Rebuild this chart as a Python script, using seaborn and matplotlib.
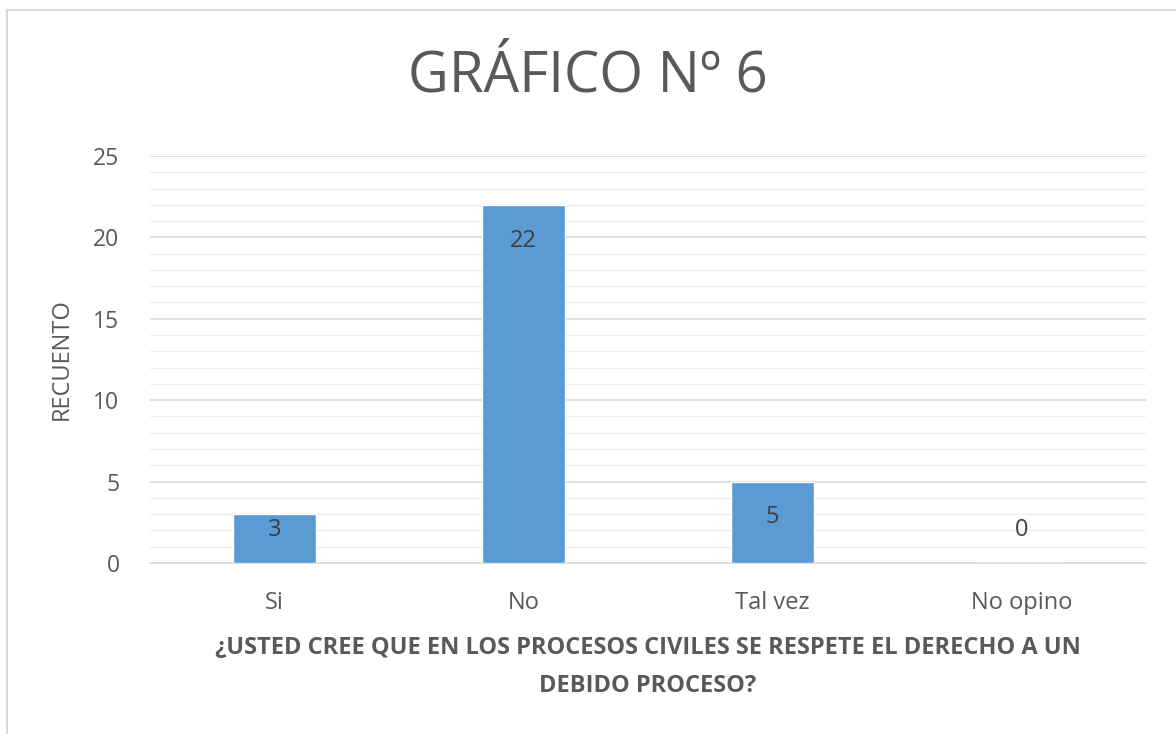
import seaborn as sns
import pandas as pd
import matplotlib.pyplot as plt
from matplotlib.patches import Rectangle
from matplotlib.ticker import MultipleLocator

categorias = ['Si', 'No', 'Tal vez', 'No opino']
recuento = [3, 22, 5, 0]

titulo = 'GRÁFICO Nº 6'
etiqueta_x = '¿USTED CREE QUE EN LOS PROCESOS CIVILES SE RESPETE EL DERECHO A UN\nDEBIDO PROCESO?'
etiqueta_y = 'RECUENTO'

df = pd.DataFrame({'respuesta': categorias, 'recuento': recuento})

sns.set_style('white')
plt.rcParams['font.family'] = ['Open Sans', 'DejaVu Sans']

gris = '#595959'
fig = plt.figure(figsize=(11.76, 7.34), dpi=100)
ax = fig.add_axes([0.1276, 0.233, 0.847, 0.5545])

# chart border (only left/top visible in the crop)
fig.patches.append(Rectangle((7 / 1176, -0.1), 1.2, 1 - 10 / 734 + 0.1,
                             transform=fig.transFigure, fill=False,
                             edgecolor='#d9d9d9', linewidth=1.5, zorder=0))

sns.barplot(data=df, x='respuesta', y='recuento', color='#5B9BD5',
            width=0.335, saturation=1, ax=ax, zorder=3)

ax.set_ylim(0, 25)
ax.set_xlim(-0.5, 3.5)
ax.yaxis.set_major_locator(MultipleLocator(5))
ax.yaxis.set_minor_locator(MultipleLocator(1))
ax.grid(axis='y', which='major', color='#d9d9d9', linewidth=1.2, zorder=0)
ax.grid(axis='y', which='minor', color='#eeeeee', linewidth=1.0, zorder=0)
ax.grid(axis='x', visible=False)
for s in ['top', 'right', 'left']:
    ax.spines[s].set_visible(False)
ax.spines['bottom'].set_color('#d9d9d9')
ax.spines['bottom'].set_linewidth(1.2)
ax.tick_params(axis='both', which='both', length=0, colors=gris)
ax.tick_params(axis='x', pad=20, labelsize=17)
ax.tick_params(axis='y', pad=22, labelsize=16.5)

for i, v in enumerate(recuento):
    ax.text(i, max(v - 2.2, 2.0), str(v), ha='center', va='center',
            fontsize=17, color='#404040', zorder=4)

ax.set_xlabel(etiqueta_x, fontsize=17, fontweight='bold', color=gris,
              labelpad=15, linespacing=1.8)
ax.set_ylabel(etiqueta_y, fontsize=17, color=gris, labelpad=14)

fig.text(0.5, 0.895, titulo, ha='center', va='center', fontsize=40.5, color=gris)

fig.savefig('out.png', dpi=100)
